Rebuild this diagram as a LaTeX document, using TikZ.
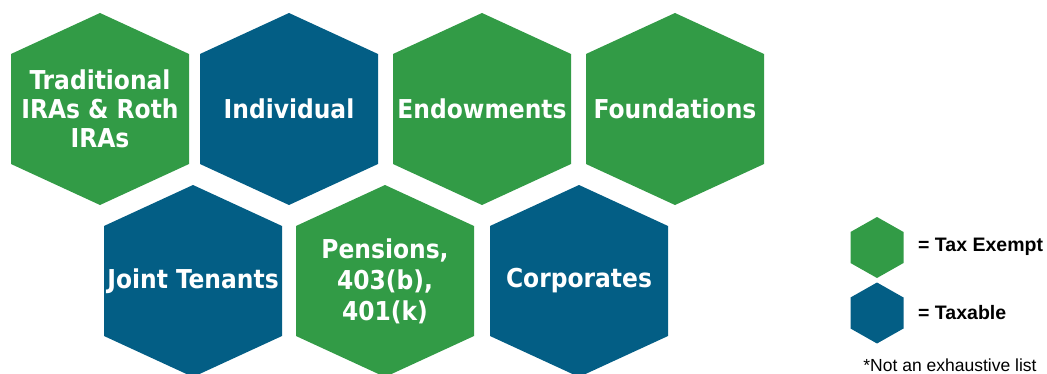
\documentclass[tikz,border=0pt]{standalone}
\usepackage{fontspec}
\setmainfont{DejaVu Sans Condensed}
\newfontfamily\legendfont{Liberation Sans}
\definecolor{exgreen}{RGB}{50,155,70}
\definecolor{txblue}{RGB}{3,94,133}
\newcommand\hexat[5]{\fill[#2,shift={#1}] (0,#4) -- (#3,#5) -- (#3,-#5) -- (0,-#4) -- (-#3,-#5) -- (-#3,#5) -- cycle;}
\tikzset{
  hextext/.style={text=white,align=center,inner sep=0pt,font={\bfseries\fontsize{26}{29}\selectfont}},
  legtext/.style={anchor=west,inner sep=0pt,font={\legendfont\bfseries\fontsize{19.5}{21}\selectfont}},
}
\begin{document}
\begin{tikzpicture}[x=1pt,y=1pt]
\useasboundingbox (0,0) rectangle (1047,373);
% row 1
\coordinate (c1) at (100,264);
\coordinate (c2) at (289,264);
\coordinate (c3) at (482,264);
\coordinate (c4) at (675,264);
% row 2
\coordinate (c5) at (193,92);
\coordinate (c6) at (385,92);
\coordinate (c7) at (579,92);
\hexat{(c1)}{exgreen}{89}{96}{55}
\hexat{(c2)}{txblue}{89}{96}{55}
\hexat{(c3)}{exgreen}{89}{96}{55}
\hexat{(c4)}{exgreen}{89}{96}{55}
\hexat{(c5)}{txblue}{89}{96}{55}
\hexat{(c6)}{exgreen}{89}{96}{55}
\hexat{(c7)}{txblue}{89}{96}{55}
\node[hextext] (trad) at (c1) {Traditional\\IRAs \& Roth\\IRAs};
\node[hextext] (indiv) at (c2) {Individual};
\node[hextext] (endow) at (c3) {Endowments};
\node[hextext] (found) at (c4) {Foundations};
\node[hextext] (joint) at (c5) {Joint Tenants};
\node[hextext,font={\bfseries\fontsize{26}{31}\selectfont}] (pens) at (c6) {Pensions,\\403(b),\\401(k)};
\node[hextext] (corp) at (c7) {Corporates};
% legend
\coordinate (lg) at (877,125.5);
\coordinate (lb) at (877,60);
\hexat{(lg)}{exgreen}{26.5}{30.5}{15.5}
\hexat{(lb)}{txblue}{26.5}{30.5}{15.5}
\node[legtext] (legex) at (918,126) {= Tax Exempt};
\node[legtext] (legtx) at (918,60) {= Taxable};
\node[inner sep=0pt,font={\legendfont\fontsize{17.5}{20}\selectfont}] (note) at (950,8) {*Not an exhaustive list};
\end{tikzpicture}
\end{document}
